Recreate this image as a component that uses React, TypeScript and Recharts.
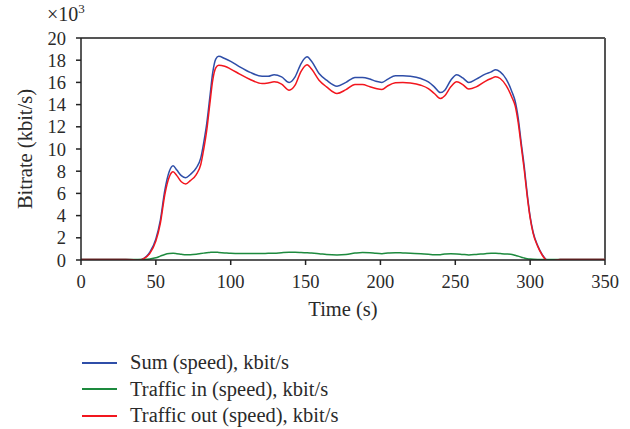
import { LineChart, Line, XAxis, YAxis, Label, ReferenceLine } from 'recharts';

// time (s)
const times = [
  0, 10, 20, 30, 35, 38, 42, 46, 50, 53,
  56, 59, 61.5, 64, 67, 70, 73, 77, 80, 82,
  84, 86, 88, 90, 92, 96, 100, 106, 113, 121,
  125, 129, 134, 139, 143, 147, 151, 154, 159, 164,
  171, 177, 183, 188, 193, 197, 201, 205, 210, 215,
  220, 227, 232, 236, 240, 243, 247, 251, 255, 259,
  264, 270, 274, 277, 280, 284, 288, 290, 292, 294,
  296, 298, 300, 302, 305, 308, 311, 313, 316, 320,
  330, 340, 350,
];

// bitrate, x10^3 kbit/s
const sumSpeed = [
  0.05, 0.05, 0.05, 0.05, 0.03, -0.03, 0.15, 0.7, 1.9, 3.6,
  6.3, 8.0, 8.5, 8.1, 7.6, 7.4, 7.7, 8.3, 9.2, 10.6,
  12.3, 14.6, 16.9, 18.1, 18.35, 18.15, 17.9, 17.4, 16.9, 16.55,
  16.55, 16.7, 16.5, 16.0, 16.5, 17.7, 18.3, 17.9, 16.8, 16.2,
  15.66, 16.0, 16.45, 16.45, 16.3, 16.1, 16.0, 16.3, 16.6, 16.6,
  16.55, 16.35, 16.05, 15.6, 15.08, 15.3, 16.2, 16.7, 16.4, 16.0,
  16.3, 16.75, 16.95, 17.15, 16.95, 16.3, 15.1, 14.3, 12.8, 10.6,
  8.5, 6.0, 3.9, 2.5, 1.3, 0.5, 0.0, -0.15, -0.05, 0.05,
  0.05, 0.05, 0.05,
];

const trafficIn = [
  0.05, 0.05, 0.05, 0.05, 0.05, 0.05, 0.06, 0.1, 0.2, 0.35,
  0.5, 0.58, 0.6, 0.57, 0.52, 0.48, 0.48, 0.52, 0.58, 0.62,
  0.66, 0.68, 0.7, 0.7, 0.68, 0.64, 0.6, 0.58, 0.58, 0.58,
  0.6, 0.6, 0.66, 0.7, 0.7, 0.68, 0.65, 0.62, 0.57, 0.5,
  0.46, 0.5, 0.62, 0.68, 0.66, 0.6, 0.57, 0.62, 0.66, 0.63,
  0.6, 0.57, 0.52, 0.47, 0.48, 0.53, 0.57, 0.55, 0.5, 0.46,
  0.5, 0.57, 0.6, 0.6, 0.58, 0.55, 0.5, 0.42, 0.35, 0.25,
  0.18, 0.12, 0.08, 0.06, 0.05, 0.05, 0.05, 0.05, 0.05, 0.05,
  0.05, 0.05, 0.05,
];

const trafficOut = [
  0.05, 0.05, 0.05, 0.05, 0.03, -0.05, 0.12, 0.6, 1.7, 3.3,
  5.9, 7.5, 7.95, 7.6, 7.05, 6.85, 7.15, 7.7, 8.6, 10.0,
  11.7, 14.0, 16.2, 17.3, 17.55, 17.45, 17.2, 16.75, 16.26, 15.9,
  15.95, 16.05, 15.85, 15.3, 15.75, 17.0, 17.6, 17.2, 16.2, 15.6,
  15.0, 15.35, 15.8, 15.8, 15.6, 15.45, 15.36, 15.7, 15.96, 16.0,
  15.95, 15.75, 15.45, 15.0, 14.54, 14.8, 15.6, 16.05, 15.8, 15.4,
  15.6, 16.1, 16.35, 16.5, 16.35, 15.7, 14.6, 13.9, 12.4, 10.3,
  8.2, 5.8, 3.8, 2.4, 1.25, 0.45, -0.05, -0.15, -0.05, 0.05,
  0.05, 0.05, 0.05,
];

const xTicks = [0, 50, 100, 150, 200, 250, 300, 350];
const yTicks = [0, 2, 4, 6, 8, 10, 12, 14, 16, 18, 20];

const SERIES = [
  { key: 'sum', name: 'Sum (speed), kbit/s', color: '#2f4ea8' },
  { key: 'in', name: 'Traffic in (speed), kbit/s', color: '#1d8a3e' },
  { key: 'out', name: 'Traffic out (speed), kbit/s', color: '#f2161e' },
];

const FONT = '"Liberation Serif", "Times New Roman", serif';
const TEXT = '#2a2a2a';
const tickStyle = { fontFamily: FONT, fontSize: 18.5, fill: TEXT };
const titleStyle = { fontFamily: FONT, fontSize: 20.5, fill: TEXT };
const axisLine = { stroke: '#222', strokeWidth: 1.5 };

const data = times.map((t, i) => ({ t, sum: sumSpeed[i], in: trafficIn[i], out: trafficOut[i] }));

export default function App() {
  return (
    <div style={{ position: 'absolute', left: 0, top: 0, width: 630, height: 429, background: '#fff', fontFamily: FONT }}>
      <LineChart width={630} height={330} data={data} margin={{ top: 38, right: 25, bottom: 0, left: 0 }}>
        <XAxis
          dataKey="t"
          type="number"
          domain={[0, 350]}
          ticks={xTicks}
          interval={0}
          allowDataOverflow
          tick={tickStyle}
          tickSize={5}
          tickMargin={10}
          axisLine={axisLine}
          tickLine={axisLine}
          height={70}
        >
          <Label value="Time (s)" position="insideBottom" offset={14} style={titleStyle} />
        </XAxis>
        <YAxis
          type="number"
          domain={[0, 20]}
          ticks={yTicks}
          interval={0}
          allowDataOverflow
          tick={tickStyle}
          tickSize={5}
          tickMargin={10}
          axisLine={axisLine}
          tickLine={axisLine}
          width={81}
        >
          <Label
            value="Bitrate (kbit/s)"
            angle={-90}
            position="insideLeft"
            offset={25}
            style={{ ...titleStyle, textAnchor: 'middle' }}
          />
          <Label
            content={({ viewBox }: any) => (
              <text x={viewBox.x + viewBox.width - 34} y={21} style={{ fontFamily: FONT, fontSize: 20, fill: TEXT }}>
                ×10<tspan dy={-8} fontSize={13}>3</tspan>
              </text>
            )}
          />
        </YAxis>
        <ReferenceLine y={20} stroke="#555" strokeWidth={2} />
        <ReferenceLine x={350} stroke="#555" strokeWidth={2} />
        {SERIES.map((s) => (
          <Line
            key={s.key}
            dataKey={s.key}
            name={s.name}
            type="monotone"
            stroke={s.color}
            strokeWidth={1.5}
            dot={false}
            isAnimationActive={false}
          />
        ))}
      </LineChart>
      <div style={{ position: 'absolute', left: 82, top: 349.5 }}>
        {SERIES.map((s) => (
          <div key={s.key} style={{ display: 'flex', alignItems: 'center', height: 26.6 }}>
            <span style={{ display: 'inline-block', width: 35, height: 0, borderTop: `2px solid ${s.color}`, marginRight: 13 }} />
            <span style={{ fontSize: 20.5, color: TEXT, whiteSpace: 'nowrap' }}>{s.name}</span>
          </div>
        ))}
      </div>
    </div>
  );
}
